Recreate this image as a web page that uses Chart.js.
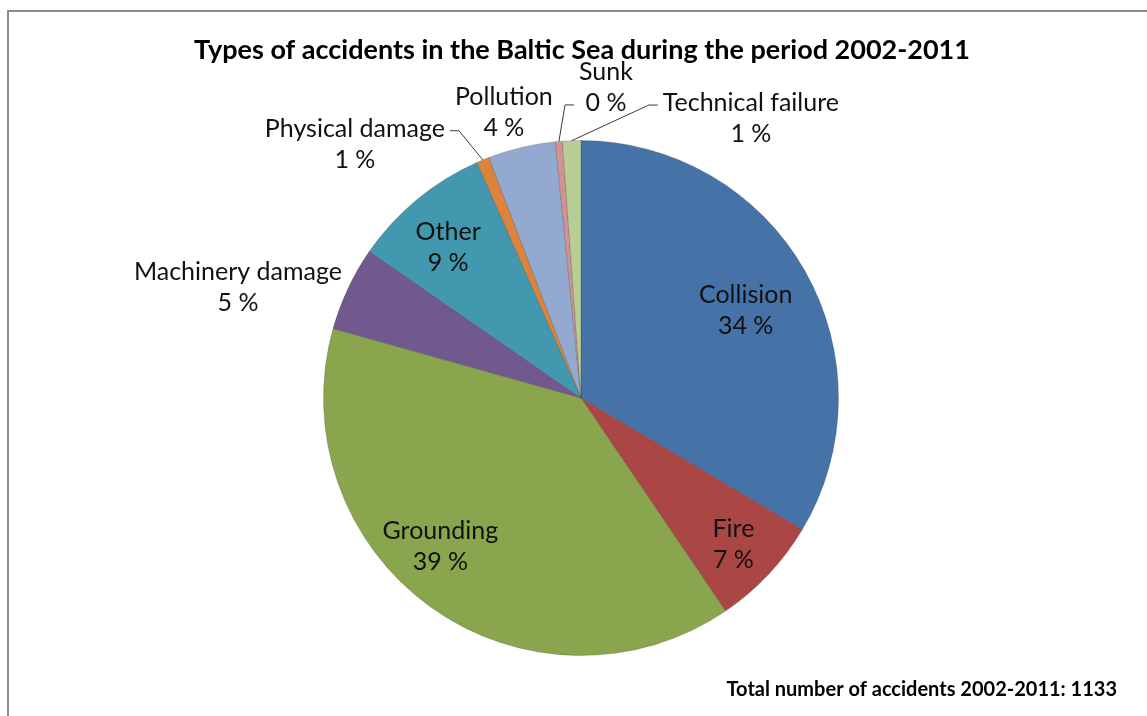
<!DOCTYPE html>
<html lang="en">
<head>
  <meta charset="UTF-8">
  <title>Types of accidents in the Baltic Sea 2002-2011</title>
  <script src="https://cdn.jsdelivr.net/npm/chart.js"></script>
  <style>
    html, body { margin: 0; padding: 0; background: #fff; overflow: hidden; }
    #frame {
      position: absolute; left: 7px; top: 10px; width: 1200px; height: 800px;
      border-left: 2px solid #8c8c8c; border-top: 2px solid #8c8c8c;
    }
    #accidentChart { position: absolute; left: 0; top: 0; }
  </style>
</head>
<body>
  <div id="frame"></div>
  <canvas id="accidentChart" width="1147" height="716"></canvas>

  <script>
    // accident types, clockwise from 12 o'clock
    const categories = [
      'Collision', 'Fire', 'Grounding', 'Machinery damage', 'Other',
      'Physical damage', 'Pollution', 'Sunk', 'Technical failure'
    ];
    // number of accidents per type (total 1133)
    const counts = [380, 79, 440, 60, 99, 9, 48, 5, 13];
    const sliceColors = [
      '#4572A7', '#AA4643', '#89A54E', '#71588F', '#4198AF',
      '#DB843D', '#93A9CF', '#D19392', '#B9CD96'
    ];
    const chartTitle = 'Types of accidents in the Baltic Sea during the period 2002-2011';
    const footNote = 'Total number of accidents 2002-2011: 1133';

    // where each label sits: angle (deg, clockwise from top), distance in radii
    // leader: side of the text box it hangs from and which text line
    const labelPlacement = [
      { angle: 61.9, r: 0.725 },
      { angle: 133.8, r: 0.82 },
      { angle: 223.4, r: 0.795 },
      { angle: 287.9, r: 1.40 },
      { angle: 318.6, r: 0.78 },
      { angle: 318.3, r: 1.32, leader: { side: 1, line: 0 } },
      { angle: 344.9, r: 1.15 },
      { angle: 4.6, r: 1.21, leader: { side: -1, line: 1 } },
      { angle: 31.3, r: 1.27, leader: { side: -1, line: 0 } }
    ];

    const LABEL_FONT = '25px Lato';
    const LINE_GAP = 31;

    const labelPlugin = {
      id: 'sliceLabels',
      afterDatasetsDraw(chart) {
        const ctx = chart.ctx;
        const meta = chart.getDatasetMeta(0);
        const total = counts.reduce((a, b) => a + b, 0);
        ctx.save();
        ctx.font = LABEL_FONT;
        ctx.textAlign = 'center';
        ctx.textBaseline = 'middle';
        meta.data.forEach((arc, i) => {
          const { x, y, outerRadius, startAngle, endAngle } =
            arc.getProps(['x', 'y', 'outerRadius', 'startAngle', 'endAngle'], true);
          const p = labelPlacement[i];
          const a = (p.angle - 90) * Math.PI / 180;
          const lx = x + Math.cos(a) * p.r * outerRadius;
          const ly = y + Math.sin(a) * p.r * outerRadius;
          const lines = [categories[i], Math.round(counts[i] / total * 100) + ' %'];
          const lineY = [ly - LINE_GAP / 2, ly + LINE_GAP / 2];

          if (p.leader) {
            const w = Math.max(...lines.map(t => ctx.measureText(t).width));
            const s = p.leader.side;
            const ax = lx + s * (w / 2 + 5);
            const ay = lineY[p.leader.line] + 2;
            const mid = (startAngle + endAngle) / 2;
            ctx.beginPath();
            ctx.moveTo(ax, ay);
            ctx.lineTo(ax + s * 9, ay);
            ctx.lineTo(x + Math.cos(mid) * outerRadius, y + Math.sin(mid) * outerRadius);
            ctx.strokeStyle = '#3a3a3a';
            ctx.lineWidth = 1;
            ctx.stroke();
          }

          ctx.fillStyle = '#111';
          lines.forEach((t, k) => ctx.fillText(t, lx, lineY[k]));
        });

        // title and footnote
        ctx.fillStyle = '#000';
        ctx.font = 'bold 27px Lato';
        ctx.textAlign = 'center';
        ctx.fillText(chartTitle, 582, 50);
        ctx.font = 'bold 20px Lato';
        ctx.textAlign = 'right';
        ctx.fillText(footNote, 1117, 690);
        ctx.restore();
      }
    };

    const ctx = document.getElementById('accidentChart').getContext('2d');
    const accidentChart = new Chart(ctx, {
      type: 'pie',
      data: {
        labels: categories,
        datasets: [{
          data: counts,
          backgroundColor: sliceColors,
          borderColor: 'rgba(60, 60, 60, 0.25)',
          borderWidth: 1
        }]
      },
      options: {
        responsive: false,
        animation: false,
        layout: { padding: { top: 140, bottom: 60, left: 15, right: 0 } },
        plugins: {
          legend: { display: false },
          tooltip: { enabled: false },
          title: { display: false }
        }
      },
      plugins: [labelPlugin]
    });
  </script>
</body>
</html>
